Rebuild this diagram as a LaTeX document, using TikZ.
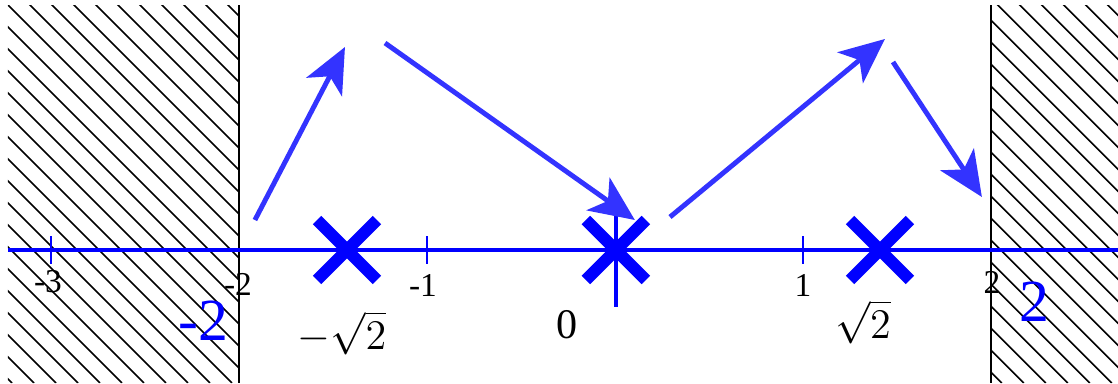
\documentclass[tikz,border=0pt]{standalone}
\usepackage{fontspec}
\setmainfont{Liberation Serif}
\usetikzlibrary{arrows.meta, shapes.misc}
\definecolor{axisblue}{HTML}{0000FF}
\definecolor{arrowblue}{HTML}{3333FF}

\begin{document}
\begin{tikzpicture}[
    x=1.88cm, y=1cm,
    wall/.style={draw=black, line width=0.6pt},
    hatch/.style={black, line width=0.45pt},
    axisline/.style={axisblue, line width=1.1pt},
    tickmark/.style={axisblue, line width=0.5pt},
    ticklabel/.style={font=\fontsize{9.5}{11}\selectfont, inner sep=0pt},
    pole/.style={cross out, draw=axisblue, line width=3.4pt, minimum size=0.48cm, inner sep=0pt},
    arr/.style={-{Stealth[length=0.45cm, width=0.4cm, inset=0.12cm]}, arrowblue, line width=1.4pt},
    biglabel/.style={text=axisblue, font=\fontsize{17}{20}\selectfont, inner sep=0pt},
    rootlabel/.style={font=\fontsize{12}{14}\selectfont, inner sep=0pt},
  ]
  \useasboundingbox (-3.271,-1.33) rectangle (2.676,2.5);
  % forbidden regions
  \begin{scope}
    \clip (-3.229,-1.33) rectangle (-2,2.45) (2,-1.33) rectangle (2.676,2.45);
    \foreach \k in {-18,...,52}
      \draw[hatch] (-3.255+\k*0.117,2.5) -- ++(2.037,-3.83);
  \end{scope}
  \draw[wall] (-2,2.45) -- (-2,-1.33);
  \draw[wall] (2,2.45) -- (2,-1.33);
  % real axis
  \draw[axisline] (-3.229,0) -- (2.676,0);
  \foreach \t in {-3,-1,1}
    \draw[tickmark] (\t,0.14) -- (\t,-0.14);
  \node[ticklabel] (lm3) at (-3.016,-0.32) {-3};
  \node[ticklabel] (lm2) at (-2.005,-0.34) {-2};
  \node[ticklabel] (lm1) at (-1.021,-0.35) {-1};
  \node[ticklabel] (lp1) at (1.0,-0.35) {1};
  \node[ticklabel] (lp2) at (2.005,-0.32) {2};
  % poles
  \node[pole] (pm) at (-1.425,0) {};
  \node[pole] (pz) at (0.005,0) {};
  \node[pole] (pp) at (1.41,0) {};
  \draw[axisblue, line width=1.1pt] (pz.center) ++(0,0.35) -- ++(0,-0.92);
  \node[rootlabel] (rm) at (-1.452,-0.83) {$-\sqrt{2}$};
  \node[rootlabel] (rz) at (-0.255,-0.75) {0};
  \node[rootlabel] (rp) at (1.319,-0.72) {$\sqrt{2}$};
  \node[biglabel] (bm) at (-2.19,-0.71) {-2};
  \node[biglabel] (bp) at (2.234,-0.52) {2};
  % bouncing path
  \coordinate (s1) at (-1.915,0.30);
  \coordinate (e1) at (-1.436,2.03);
  \coordinate (s2) at (-1.223,2.07);
  \coordinate (e2) at (0.106,0.30);
  \coordinate (s3) at (0.293,0.33);
  \coordinate (e3) at (1.436,2.11);
  \coordinate (s4) at (1.479,1.88);
  \coordinate (e4) at (1.952,0.53);
  \draw[arr] (s1) -- (e1);
  \draw[arr] (s2) -- (e2);
  \draw[arr] (s3) -- (e3);
  \draw[arr] (s4) -- (e4);
\end{tikzpicture}
\end{document}
